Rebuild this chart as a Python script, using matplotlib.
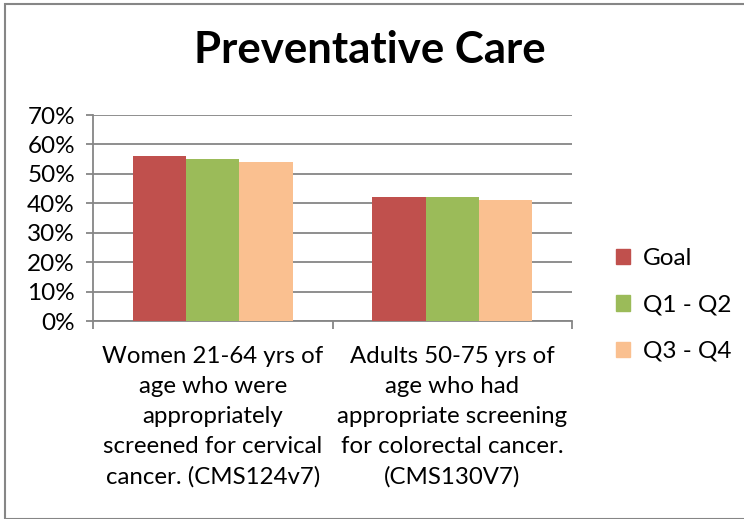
import numpy as np
import matplotlib.pyplot as plt
from matplotlib.patches import Rectangle, Patch

categories = ["Women 21-64 yrs of\nage who were\nappropriately\nscreened for cervical\ncancer. (CMS124v7)",
              "Adults 50-75 yrs of\nage who had\nappropriate screening\nfor colorectal cancer.\n(CMS130V7)"]
series = ["Goal", "Q1 - Q2", "Q3 - Q4"]
goal = [0.56, 0.42]
q1q2 = [0.55, 0.42]
q3q4 = [0.54, 0.41]
colors = ["#C0504D", "#9BBB59", "#FAC090"]

plt.rcParams['font.family'] = ['Lato', 'DejaVu Sans']

fig = plt.figure(figsize=(7.44, 5.19), dpi=100)
ax = fig.add_axes([93/744, 1-321/519, (572-93)/744, (321-115)/519])

x = np.arange(len(categories))
w = 0.223
for i, (vals, c) in enumerate(zip([goal, q1q2, q3q4], colors)):
    ax.bar(x + (i-1)*w, vals, w, color=c, zorder=3, linewidth=0)

ax.set_xlim(-0.5, 1.5)
ax.set_ylim(0, 0.7)
ax.set_yticks(np.arange(0, 0.71, 0.1))
ax.set_yticklabels([f"{int(round(v*100))}%" for v in np.arange(0, 0.71, 0.1)], fontsize=17.5)
ax.grid(axis='y', color='#868686', linewidth=1.3, zorder=0)
ax.tick_params(axis='y', length=5, width=1.3, color='#868686', pad=8)

ax.set_xticks(x)
ax.set_xticklabels(categories, fontsize=17.3, linespacing=1.53)
ax.tick_params(axis='x', which='major', length=0, pad=18)
ax.set_xticks([-0.5, 0.5, 1.5], minor=True)
ax.tick_params(axis='x', which='minor', length=6, width=1.3, color='#868686')

for s in ['top', 'right']:
    ax.spines[s].set_visible(False)
for s in ['left', 'bottom']:
    ax.spines[s].set_color('#868686')
    ax.spines[s].set_linewidth(1.3)

fig.text(370/744, 1-50/519, "Preventative Care", fontsize=31.5, fontweight='bold',
         ha='center', va='center')

handles = [Patch(color=c) for c in colors]
fig.legend(handles, series, loc='upper left', bbox_to_anchor=(594/744, 1-226/519),
           frameon=False, fontsize=17.5, handlelength=0.6, handleheight=0.6,
           handletextpad=0.5, labelspacing=1.05)

fig.patches.append(Rectangle((4.5/744, 0.5/519), 1.0, 1-4/519, transform=fig.transFigure,
                             fill=False, edgecolor='#868686', linewidth=1.5))

fig.savefig("out.png", dpi=100)
